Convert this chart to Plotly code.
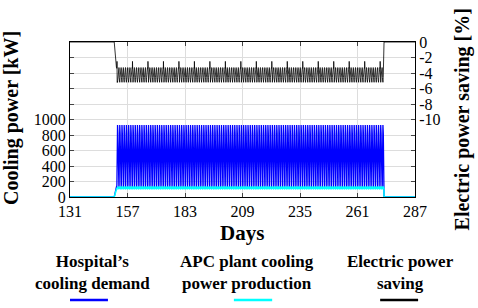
import plotly.graph_objects as go

# ---- data ----
x_range = [131, 287]
x_ticks = [131, 157, 183, 209, 235, 261, 287]
season_start_day = 152          # cooling season start (day of year)
season_end_day = 273            # cooling season end (day of year)

# typical hourly profiles during the cooling season
demand_day_profile = [130, 130, 130, 130, 135, 160, 320, 560, 720, 820, 890, 925,
                      930, 925, 905, 880, 820, 720, 610, 500, 400, 300, 210, 150]      # kW
apc_day_profile = [100, 100, 100, 100, 100, 110, 128, 130, 130, 130, 130, 130,
                   130, 130, 130, 130, 130, 130, 130, 128, 120, 110, 105, 100]         # kW
saving_day_profile = [-3.3, -3.3, -3.3, -3.3, -3.3, -3.4, -4.6, -5.1, -5.2, -5.0, -4.9, -5.1,
                      -5.2, -5.0, -4.8, -4.6, -4.2, -3.8, -3.5, -3.3, -3.3, -3.3, -3.3, -3.3]  # %
saving_weekly_peak = -2.5       # once-a-week peak of the saving curve (%)
saving_peak_weekday = 0
saving_peak_hour = 6

y1_ticks = [0, 200, 400, 600, 800, 1000, 1200, 1400, 1600, 1800, 2000]
y1_labels = ["0", "200", "400", "600", "800", "1000", "", "", "", "", ""]
y2_ticks = [0, -2, -4, -6, -8, -10, -12, -14, -16, -18, -20]
y2_labels = ["0", "-2", "-4", "-6", "-8", "-10", "", "", "", "", ""]

# ---- build series ----
t, demand, apc, saving = [], [], [], []
t.append(x_range[0]); demand.append(0); apc.append(0); saving.append(0)
t.append(season_start_day - 1); demand.append(0); apc.append(0); saving.append(0)
for d in range(season_start_day, season_end_day):
    for h in range(24):
        t.append(d + h / 24)
        demand.append(demand_day_profile[h])
        apc.append(apc_day_profile[h])
        s = saving_day_profile[h]
        if (d - season_start_day) % 7 == saving_peak_weekday and h == saving_peak_hour:
            s = saving_weekly_peak
        saving.append(s)
t.append(season_end_day); demand.append(0); apc.append(0); saving.append(0)
t.append(x_range[1]); demand.append(0); apc.append(0); saving.append(0)

fig = go.Figure()
fig.add_trace(go.Scatter(x=t, y=demand, mode="lines", line=dict(color="#0000FF", width=1.3),
                         name="Hospital’s cooling demand", yaxis="y"))
fig.add_trace(go.Scatter(x=t, y=apc, mode="lines", line=dict(color="#00FFFF", width=1.5),
                         name="APC plant cooling power production", yaxis="y"))
fig.add_trace(go.Scatter(x=t, y=saving, mode="lines", line=dict(color="black", width=0.8),
                         name="Electric power saving", yaxis="y2"))

FONT = "Liberation Serif"
TICKFONT = dict(family=FONT, size=16, color="black")
fig.update_layout(
    width=478, height=308,
    margin=dict(l=70, r=63, t=42, b=111),
    paper_bgcolor="white", plot_bgcolor="white",
    showlegend=False,
    font=dict(family=FONT, size=16, color="black"),
    xaxis=dict(range=x_range, tickvals=x_ticks, ticks="inside", ticklen=4,
               showline=True, linecolor="black", linewidth=1, mirror="ticks",
               showgrid=True, gridcolor="#DDDDDD", zeroline=False, tickfont=TICKFONT),
    yaxis=dict(range=[0, 2000], tickvals=y1_ticks, ticktext=y1_labels, ticks="inside", ticklen=4,
               showline=True, linecolor="black", linewidth=1, mirror=True,
               showgrid=True, gridcolor="#DDDDDD", zeroline=False, tickfont=TICKFONT),
    yaxis2=dict(range=[-20, 0], tickvals=y2_ticks, ticktext=y2_labels, ticks="inside", ticklen=4,
                overlaying="y", side="right", showline=True, linecolor="black", linewidth=1,
                showgrid=False, zeroline=False, tickfont=TICKFONT),
)

ann = [
    dict(text="<b>Days</b>", x=0.4986, y=-0.232, font=dict(size=21)),
    dict(text="<b>Cooling power [kW]</b>", x=-0.168, y=0.51, textangle=-90, font=dict(size=20)),
    dict(text="<b>Electric power saving [%]</b>", x=1.139, y=0.50, textangle=-90, font=dict(size=20)),
    dict(text="<b>Hospital’s<br>cooling demand</b>", x=0.064, y=-0.49, font=dict(size=17)),
    dict(text="<b>APC plant cooling<br>power production</b>", x=0.513, y=-0.49, font=dict(size=17)),
    dict(text="<b>Electric power<br>saving</b>", x=0.957, y=-0.49, font=dict(size=17)),
]
for a in ann:
    a.update(xref="paper", yref="paper", showarrow=False, xanchor="center", yanchor="middle")
    a["font"].update(family=FONT, color="black")
    fig.add_annotation(**a)

for (x0, x1, c) in [(0.0, 0.110, "#0000FF"), (0.475, 0.586, "#00FFFF"), (0.899, 1.009, "black")]:
    fig.add_shape(type="line", xref="paper", yref="paper", x0=x0, x1=x1, y0=-0.665, y1=-0.665,
                  line=dict(color=c, width=2.5))

fig.write_html("out.html", config={"displayModeBar": False},
               post_script="document.body.style.margin='0';")
